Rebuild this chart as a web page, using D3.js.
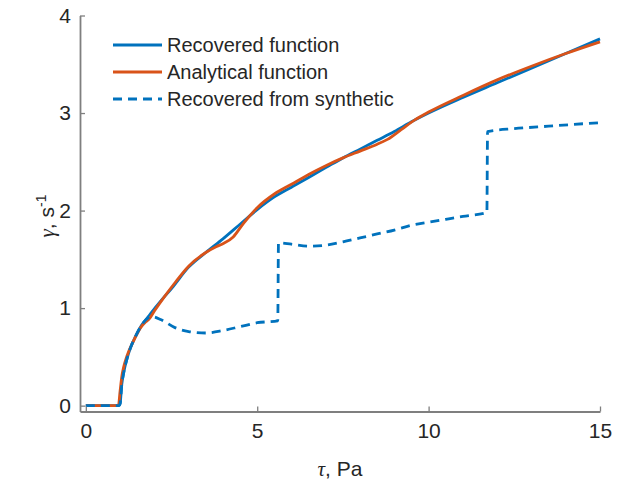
<!DOCTYPE html>
<html><head><meta charset="utf-8">
<script src="https://cdn.jsdelivr.net/npm/d3@7"></script>
<style>body{margin:0;background:#fff}svg{display:block}text{font-family:"Liberation Sans",Arial,sans-serif}</style>
</head><body>
<svg id="c" width="638" height="483"></svg>
<script>
const xTicks = [0, 5, 10, 15];
const yTicks = [0, 1, 2, 3, 4];
const seriesNames = ["Recovered function", "Analytical function", "Recovered from synthetic"];

const recX = [0, 0.97, 1.0, 1.05, 1.1, 1.2, 1.3, 1.45, 1.6, 1.75, 1.9, 2.2, 2.5, 3.0, 3.5, 4.0, 4.5, 5.0, 5.5, 6.0, 6.5, 7.0, 7.5, 8.0, 8.5, 9.0, 9.5, 10, 11, 12, 13, 14, 15];
const recY = [0, 0, 0.02, 0.22, 0.33, 0.48, 0.59, 0.71, 0.81, 0.88, 0.95, 1.08, 1.2, 1.42, 1.57, 1.71, 1.86, 2.01, 2.14, 2.24, 2.34, 2.44, 2.54, 2.63, 2.72, 2.81, 2.91, 3.00, 3.16, 3.31, 3.46, 3.61, 3.76];

const anaX = [0, 0.95, 1.0, 1.05, 1.1, 1.2, 1.4, 1.6, 1.75, 1.85, 2.0, 2.3, 2.6, 3.0, 3.5, 3.8, 4.0, 4.3, 4.6, 5.0, 5.5, 6.0, 6.5, 7.0, 7.5, 8.0, 8.5, 8.8, 9.2, 9.6, 10, 11, 12, 13, 14, 15];
const anaY = [0, 0, 0.15, 0.3, 0.39, 0.51, 0.67, 0.8, 0.86, 0.89, 0.97, 1.12, 1.26, 1.43, 1.57, 1.63, 1.66, 1.73, 1.87, 2.03, 2.17, 2.27, 2.37, 2.46, 2.54, 2.61, 2.68, 2.73, 2.83, 2.93, 3.01, 3.18, 3.34, 3.48, 3.61, 3.73];

const synX = [0, 0.97, 1.0, 1.05, 1.1, 1.2, 1.3, 1.45, 1.6, 1.75, 1.9, 2.2, 2.6, 3.0, 3.5, 4.0, 4.5, 5.0, 5.6, 5.62, 6.0, 6.5, 7.0, 7.5, 8.0, 8.5, 9.0, 9.5, 10.0, 10.5, 11.0, 11.7, 11.72, 12.5, 13.5, 14.5, 15];
const synY = [0, 0, 0.02, 0.22, 0.33, 0.48, 0.59, 0.71, 0.81, 0.88, 0.915, 0.88, 0.80, 0.76, 0.745, 0.77, 0.81, 0.85, 0.87, 1.67, 1.655, 1.635, 1.645, 1.68, 1.72, 1.76, 1.80, 1.85, 1.88, 1.91, 1.94, 1.98, 2.81, 2.84, 2.865, 2.89, 2.90];

const colors = ["#0072BD", "#D95319", "#0072BD"];

const svg = d3.select("#c");
const x = d3.scaleLinear().domain([-0.17, 15]).range([80, 600]);
const y = d3.scaleLinear().domain([-0.06, 4]).range([411.5, 15.5]);
const axisCol = "#7f7f7f", textCol = "#262626";

const line = d3.line().x(d => x(d[0])).y(d => y(d[1])).curve(d3.curveMonotoneX);
const series = [
  {pts: d3.zip(recX, recY), c: colors[0], dash: null},
  {pts: d3.zip(anaX, anaY), c: colors[1], dash: null},
  {pts: d3.zip(synX, synY), c: colors[2], dash: "9,6"}
];
svg.append("g").selectAll("path").data(series).join("path")
  .attr("d", d => line(d.pts)).attr("fill", "none")
  .attr("stroke", d => d.c).attr("stroke-width", 2.8)
  .attr("stroke-dasharray", d => d.dash)
  .attr("stroke-linejoin", "round");

// axes
const fmt = d3.format("d");
const xa = svg.append("g").attr("transform", `translate(0,${y.range()[0]})`)
  .call(d3.axisBottom(x).tickValues(xTicks).tickFormat(fmt).tickSizeInner(-5).tickSizeOuter(0).tickPadding(12));
const ya = svg.append("g").attr("transform", `translate(${x.range()[0]},0)`)
  .call(d3.axisLeft(y).tickValues(yTicks).tickFormat(fmt).tickSizeInner(-5).tickSizeOuter(0).tickPadding(9));
[xa, ya].forEach(a => {
  a.select(".domain").attr("stroke", axisCol).attr("stroke-width", 1.8);
  a.selectAll(".tick line").attr("stroke", axisCol).attr("stroke-width", 1.3);
  a.selectAll(".tick text").attr("fill", textCol).style("font-size", "21px").style("font-family", "'Liberation Sans', Arial, sans-serif");
});

// axis labels
const xl = svg.append("text").attr("x", 340).attr("y", 476).attr("text-anchor", "middle")
  .attr("fill", textCol).style("font-size", "21px");
xl.append("tspan").style("font-style", "italic").style("font-family", "'Liberation Serif', serif").text("τ");
xl.append("tspan").text(", Pa");

const yl = svg.append("text").attr("transform", "translate(54,216) rotate(-90)").attr("text-anchor", "middle")
  .attr("fill", textCol).style("font-size", "21px");
yl.append("tspan").style("font-style", "italic").style("font-family", "'Liberation Serif', serif").text("γ");
yl.append("tspan").text(", s");
yl.append("tspan").attr("dy", -8).style("font-size", "14px").text("-1");

// legend
const lg = svg.append("g");
const rowsY = [45, 72, 99];
seriesNames.forEach((n, i) => {
  lg.append("line").attr("x1", 113).attr("x2", 162).attr("y1", rowsY[i]).attr("y2", rowsY[i])
    .attr("stroke", colors[i]).attr("stroke-width", 2.8).attr("stroke-dasharray", series[i].dash);
  lg.append("text").attr("x", 167).attr("y", rowsY[i]).attr("dy", "0.36em").attr("fill", textCol)
    .style("font-size", "20px").text(n);
});
</script>
</body></html>
